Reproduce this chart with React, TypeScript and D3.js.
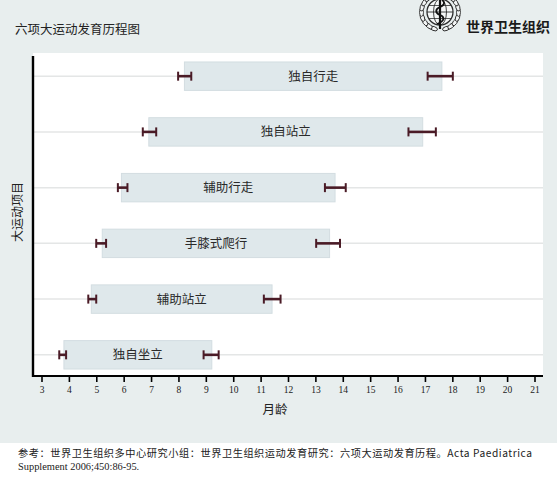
import React from "react";
import * as d3 from "d3";

// Milestones (top to bottom)
const milestones = ["独自行走", "独自站立", "辅助行走", "手膝式爬行", "辅助站立", "独自坐立"];
// Window of achievement (months)
const windowStart = [8.2, 6.9, 5.9, 5.2, 4.8, 3.8];
const windowEnd = [17.6, 16.9, 13.7, 13.5, 11.4, 9.2];
// Confidence intervals of window start / end
const startCiLow = [7.97, 6.68, 5.77, 4.98, 4.69, 3.63];
const startCiHigh = [8.45, 7.17, 6.12, 5.34, 4.98, 3.88];
const endCiLow = [17.08, 16.38, 13.33, 13.01, 11.1, 8.9];
const endCiHigh = [18.0, 17.38, 14.09, 13.88, 11.71, 9.45];
// Axis ticks
const monthTicks = d3.range(3, 22);

const title = "六项大运动发育历程图";
const orgName = "世界卫生组织";
const xTitle = "月龄";
const yTitle = "大运动项目";
const footer1 = "参考：世界卫生组织多中心研究小组：世界卫生组织运动发育研究：六项大运动发育历程。Acta Paediatrica";
const footer2 = "Supplement 2006;450:86-95.";

const W = 557;
const H = 478;
const plot = { left: 33, right: 543, top: 53, bottom: 376 };
const CJK = "'Noto Sans CJK SC', sans-serif";
const SERIF = "'Liberation Serif', 'DejaVu Serif', serif";
const EB = "#4a1b26";

function Emblem({ cx, cy }: { cx: number; cy: number }) {
  const leaves = d3.range(0, 8);
  const c = "#2e2e2e";
  return (
    <g stroke={c} fill="none">
      {/* laurel */}
      {leaves.map((i) => {
        const a = Math.PI / 2 + 0.35 + i * 0.3;
        const r = 18.5;
        const lx = cx + r * Math.cos(a);
        const ly = cy + r * Math.sin(a) * 0.95;
        const deg = (a * 180) / Math.PI;
        return (
          <g key={"l" + i}>
            <ellipse cx={lx} cy={ly} rx={2} ry={4} transform={`rotate(${deg},${lx},${ly})`} strokeWidth={0.9} fill="#f2f4f4" />
            <ellipse cx={2 * cx - lx} cy={ly} rx={2} ry={4} transform={`rotate(${-deg},${2 * cx - lx},${ly})`} strokeWidth={0.9} fill="#f2f4f4" />
          </g>
        );
      })}
      {/* globe */}
      <circle cx={cx} cy={cy} r={13} strokeWidth={1.3} fill="#f5f7f7" />
      <ellipse cx={cx} cy={cy} rx={6.5} ry={13} strokeWidth={0.9} />
      <line x1={cx - 13} y1={cy} x2={cx + 13} y2={cy} strokeWidth={0.9} />
      <line x1={cx - 11.3} y1={cy - 6.5} x2={cx + 11.3} y2={cy - 6.5} strokeWidth={0.8} />
      <line x1={cx - 11.3} y1={cy + 6.5} x2={cx + 11.3} y2={cy + 6.5} strokeWidth={0.8} />
      {/* staff and serpent */}
      <line x1={cx} y1={cy - 16} x2={cx} y2={cy + 17} strokeWidth={2.2} stroke="#111" />
      <path
        d={`M${cx - 3},${cy + 12} C${cx + 5},${cy + 9} ${cx + 5},${cy + 5} ${cx},${cy + 3} S${cx - 5},${cy - 3} ${cx},${cy - 5} S${cx + 5},${cy - 10} ${cx + 2},${cy - 12}`}
        strokeWidth={1.8}
        stroke="#111"
      />
    </g>
  );
}

export default function App() {
  const x = d3.scaleLinear().domain([3, 21]).range([42, 535]);
  const y = d3.scalePoint<string>().domain(milestones).range([55, 376]).padding(0.38);
  const step = y.step();
  const barH = step * 0.51;
  const cap = 4.5;

  return (
    <svg
      width={W}
      height={H}
      viewBox={`0 0 ${W} ${H}`}
      style={{ position: "absolute", left: 0, top: 0, display: "block" }}
    >
      <rect x={0} y={0} width={W} height={H} fill="#ffffff" />
      <rect x={0} y={0} width={W} height={443} fill="#e8eeee" />

      {/* header */}
      <text x={15} y={34} fontFamily={CJK} fontSize={12.5} fill="#222">
        {title}
      </text>
      <Emblem cx={440} cy={12} />
      <text x={466} y={32} fontFamily={CJK} fontSize={14} fontWeight={700} fill="#1a1a1a">
        {orgName}
      </text>

      {/* plot background */}
      <rect x={plot.left} y={plot.top} width={plot.right - plot.left} height={plot.bottom - plot.top} fill="#ffffff" />

      {/* grid lines */}
      {milestones.map((m) => (
        <line
          key={"g" + m}
          x1={plot.left}
          x2={plot.right}
          y1={y(m)!}
          y2={y(m)!}
          stroke="#e4e6e6"
          strokeWidth={1.5}
        />
      ))}

      {/* bars */}
      {milestones.map((m, i) => {
        const cy = y(m)!;
        const x0 = x(windowStart[i]);
        const x1 = x(windowEnd[i]);
        return (
          <g key={"b" + m}>
            <rect
              x={x0}
              y={cy - barH / 2}
              width={x1 - x0}
              height={barH}
              fill="#dfe8eb"
              stroke="#d3dde1"
              strokeWidth={1}
            />
            <text
              x={(x0 + x1) / 2}
              y={cy}
              dy="0.36em"
              textAnchor="middle"
              fontFamily={CJK}
              fontSize={12.5}
              fill="#2a2a2a"
            >
              {m}
            </text>
          </g>
        );
      })}

      {/* error bars */}
      {milestones.map((m, i) => {
        const cy = y(m)!;
        const segs = [
          [startCiLow[i], startCiHigh[i]],
          [endCiLow[i], endCiHigh[i]],
        ];
        return (
          <g key={"e" + m} stroke={EB}>
            {segs.map(([a, b], k) => (
              <g key={k}>
                <line x1={x(a)} x2={x(b)} y1={cy} y2={cy} strokeWidth={2.6} />
                <line x1={x(a)} x2={x(a)} y1={cy - cap} y2={cy + cap} strokeWidth={2} />
                <line x1={x(b)} x2={x(b)} y1={cy - cap} y2={cy + cap} strokeWidth={2} />
              </g>
            ))}
          </g>
        );
      })}

      {/* axes */}
      <line x1={plot.left} x2={plot.left} y1={plot.top + 3} y2={plot.bottom + 1} stroke="#000" strokeWidth={2.4} />
      <line x1={plot.left - 1} x2={plot.right} y1={plot.bottom} y2={plot.bottom} stroke="#000" strokeWidth={2} />
      {monthTicks.map((t) => (
        <g key={"t" + t} transform={`translate(${x(t)},${plot.bottom})`}>
          <line y1={0} y2={6} stroke="#000" strokeWidth={1.6} />
          <text y={17} textAnchor="middle" fontFamily={SERIF} fontSize={9.5} fill="#222">
            {t}
          </text>
        </g>
      ))}

      <text x={275} y={414} textAnchor="middle" fontFamily={CJK} fontSize={12.5} fill="#222">
        {xTitle}
      </text>
      <text
        transform={`translate(22,${212}) rotate(-90)`}
        textAnchor="middle"
        fontFamily={CJK}
        fontSize={12}
        fill="#222"
      >
        {yTitle}
      </text>

      {/* footer */}
      <text x={18} y={457} fontFamily={CJK} fontSize={10.2} fill="#222" textLength={514} lengthAdjust="spacing">
        {footer1}
      </text>
      <text x={18} y={470} fontFamily={SERIF} fontSize={10.4} fill="#222">
        {footer2}
      </text>
    </svg>
  );
}
